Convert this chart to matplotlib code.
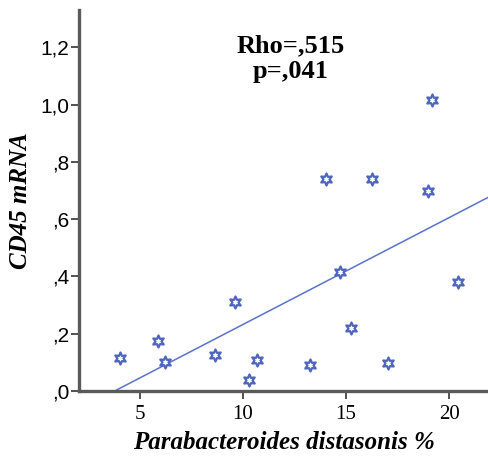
import numpy as np
import matplotlib
matplotlib.use("Agg")
import matplotlib.pyplot as plt

x_vals = [4.01, 5.87, 6.23, 8.66, 9.60, 10.29, 10.68, 13.25, 14.01, 14.71,
          15.26, 16.26, 17.04, 18.97, 19.17, 20.42]
y_vals = [0.114, 0.174, 0.102, 0.126, 0.309, 0.039, 0.109, 0.091, 0.739, 0.417,
          0.219, 0.739, 0.099, 0.699, 1.016, 0.381]
x_ticks = [5, 10, 15, 20]
y_ticks = [0.0, 0.2, 0.4, 0.6, 0.8, 1.0, 1.2]
y_tick_labels = [",0", ",2", ",4", ",6", ",8", "1,0", "1,2"]
annotation = "Rho=,515\np=,041"
x_label = "Parabacteroides distasonis %"
y_label = "CD45 mRNA"

fig = plt.figure(figsize=(4.89, 4.58), dpi=100)
ax = fig.add_axes([79/489, 67/458, 1 - 79/489, (391-10)/458])

ax.set_xlim(2.04, 21.94)
ax.set_ylim(0, 1.33)

slope, intercept = np.polyfit(x_vals, y_vals, 1)
x0 = -intercept / slope
xl = np.array([x0, 22.5])
ax.plot(xl, slope * xl + intercept, color="#5a73c8", lw=1.1, zorder=2)

ax.scatter(x_vals, y_vals, marker=(6, 1, 0), s=75, facecolor="white",
           edgecolor="#4e66bd", linewidths=1.6, zorder=3)

for s in ["top", "right"]:
    ax.spines[s].set_visible(False)
for s in ["left", "bottom"]:
    ax.spines[s].set_color("#5a5a5a")
    ax.spines[s].set_linewidth(2.4)

ax.set_xticks(x_ticks)
ax.set_xticklabels([str(t) for t in x_ticks], fontfamily="Liberation Serif", fontsize=15)
ax.set_yticks(y_ticks)
ax.set_yticklabels(y_tick_labels, fontfamily="Liberation Sans", fontsize=15)
ax.tick_params(axis="both", direction="out", length=6, width=1.2, color="#333333")
ax.tick_params(axis="x", pad=4)
ax.tick_params(axis="y", pad=1)

ax.set_xlabel(x_label, fontfamily="Liberation Serif", style="italic",
              fontweight="bold", fontsize=18, labelpad=5)
ax.set_ylabel(y_label, fontfamily="Liberation Serif", style="italic",
              fontweight="bold", fontsize=18, labelpad=6)

ax.text(0.516, 0.872, annotation, transform=ax.transAxes, ha="center", va="center",
        fontfamily="Liberation Serif", fontweight="bold", fontsize=19, linespacing=1.12)

fig.savefig("out.png", dpi=100)
